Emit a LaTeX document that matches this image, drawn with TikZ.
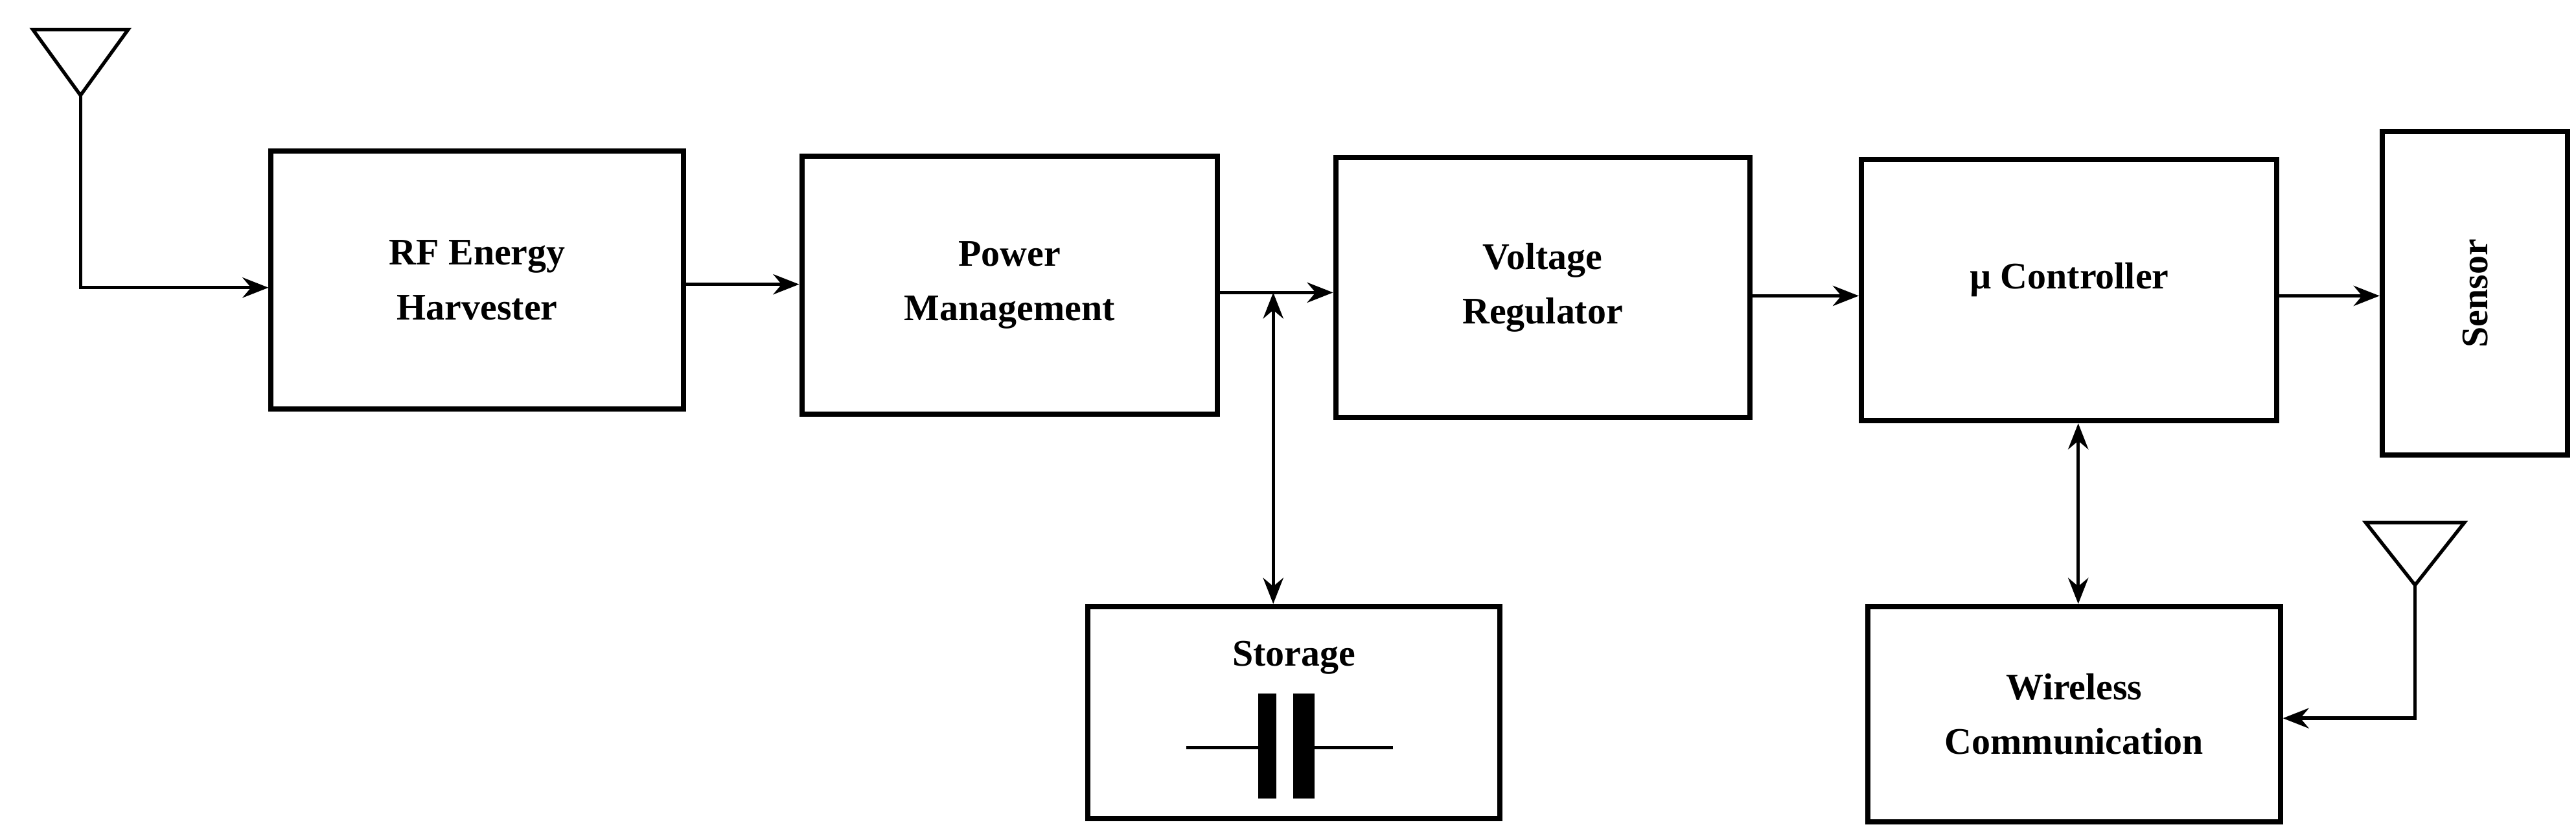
\documentclass[tikz,border=0pt]{standalone}
\usepackage{fontspec}
\setmainfont{Liberation Serif}
\usetikzlibrary{arrows.meta}
\begin{document}
\begin{tikzpicture}[x=0.02cm,y=-0.02cm,>={Stealth[length=9pt,width=7pt]},line width=1.2pt]
	\tikzstyle{block}=[draw,line width=1.8pt,inner sep=0pt,align=center,font=\fontsize{13}{19}\selectfont\bfseries]
	\useasboundingbox (0,0) rectangle (1568,511);
	
	\node[block,minimum width=5.02cm,minimum height=3.14cm] (RF)   at (290.5,170.5)  {RF Energy\\Harvester};
	\node[block,minimum width=5.06cm,minimum height=3.14cm] (PM)   at (614.5,173.5)  {Power\\Management};
	\node[block,minimum width=5.04cm,minimum height=3.16cm] (VR)   at (939,175)      {Voltage\\Regulator};
	\node[block,minimum width=5.06cm,minimum height=3.18cm] (MC)   at (1259.5,176.5) {};
	\node[font=\fontsize{13}{19}\selectfont\bfseries]       (MCt)  at (1259.5,170)   {µ Controller};
	\node[block,minimum width=2.26cm,minimum height=3.94cm] (Sen)  at (1506.5,178.5) {};
	\node[font=\fontsize{13}{19}\selectfont\bfseries,rotate=90] (Sent) at (1506.5,178.5) {Sensor};
	\node[block,minimum width=5.02cm,minimum height=2.58cm] (St)   at (787.5,433.5)  {};
	\node[font=\fontsize{13}{19}\selectfont\bfseries]       (Stt)  at (787.5,400)    {Storage};
	\node[block,minimum width=5.02cm,minimum height=2.62cm] (WC)   at (1262.5,434.5) {Wireless\\Communication};
	
	% antennas
	\coordinate (A1l) at (20,18);  \coordinate (A1r) at (78,18);  \coordinate (A1) at (49,58);
	\coordinate (A1b) at (49,175);
	\coordinate (A2l) at (1440,318); \coordinate (A2r) at (1500,318); \coordinate (A2) at (1470,356);
	\coordinate (A2b) at (1470,437);
	\draw (A1l) -- (A1r) -- (A1) -- cycle;
	\draw (A2l) -- (A2r) -- (A2) -- cycle;
	\draw[->] (A1) -- (A1b) -- (A1b -| RF.west);
	\draw[->] (A2) -- (A2b) -- (A2b -| WC.east);
	
	% capacitor
	\coordinate (C1) at (722,455); \coordinate (C2) at (848,455);
	\draw (C1) -- (766,455);
	\draw (800,455) -- (C2);
	\fill (766,422) rectangle (777,486);
	\fill (787,422) rectangle (800,486);
	
	% links
	\coordinate (J) at (775,178);
	\draw[->] (RF.east |- 0,173) -- (PM.west |- 0,173);
	\draw[->] (PM.east |- J) -- (VR.west |- J);
	\draw[<->] (J) -- (J |- St.north);
	\draw[->] (VR.east |- 0,180) -- (MC.west |- 0,180);
	\draw[->] (MC.east |- 0,180) -- (Sen.west |- 0,180);
	\draw[<->] (MC.south -| 1265,0) -- (WC.north -| 1265,0);
\end{tikzpicture}
\end{document}
